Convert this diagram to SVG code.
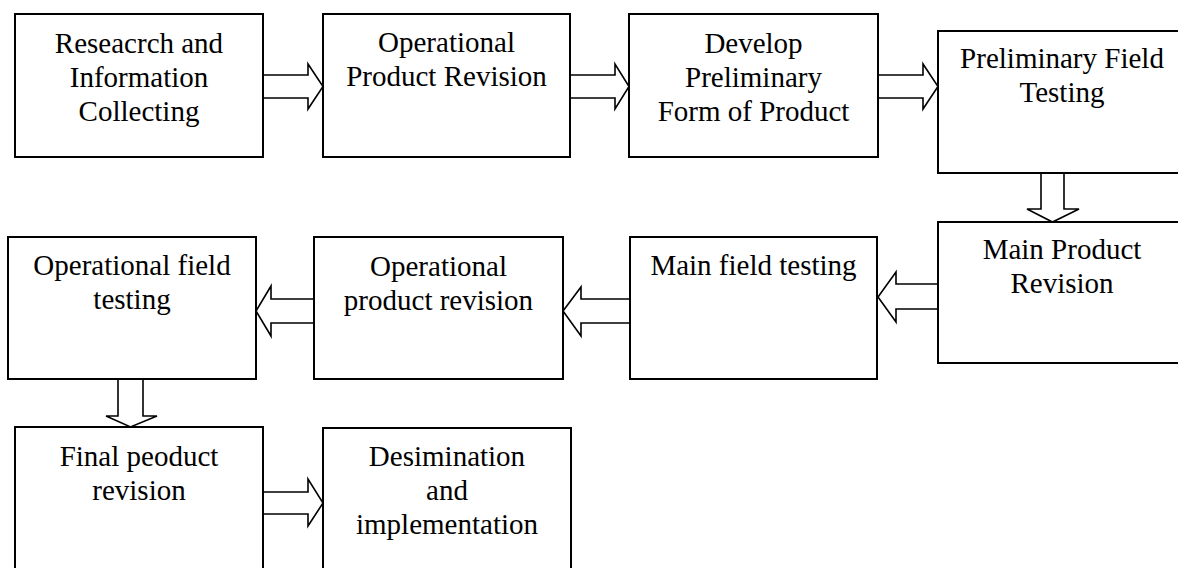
<svg xmlns="http://www.w3.org/2000/svg" width="1178" height="568" viewBox="0 0 1178 568">
<style>
.box{fill:#fff;stroke:#000;stroke-width:2}
.arr{fill:#fff;stroke:#000;stroke-width:1.6;stroke-linejoin:miter}
text{font-family:'Liberation Serif',Tinos,'Times New Roman',Times,'DejaVu Serif',serif;font-size:29px;fill:#000;text-anchor:middle}
</style>
<rect width="1178" height="568" fill="#fff"/>
<g id="connectors">
<polygon class="arr" points="263,75 308,75 308,64 323,86.5 308,109 308,98 263,98"/>
<polygon class="arr" points="570,75 615,75 615,64 629,86.5 615,109 615,98 570,98"/>
<polygon class="arr" points="878,75 923,75 923,64 938,86.5 923,109 923,98 878,98"/>
<polygon class="arr" points="1041,173 1041,209 1027,209 1052.5,222 1079,209 1064,209 1064,173"/>
<polygon class="arr" points="938,284 896,284 896,272 878,297 896,322 896,309 938,309"/>
<polygon class="arr" points="630,299 581,299 581,287 563,311 581,336 581,323 630,323"/>
<polygon class="arr" points="314,299 271,299 271,286 256,311 271,336 271,323 314,323"/>
<polygon class="arr" points="118,379 118,416 106,416 130.5,427 157,416 143,416 143,379"/>
<polygon class="arr" points="263,492 308,492 308,479 323,503 308,526 308,514 263,514"/>
</g>
<g id="n1"><rect class="box" x="15" y="14" width="248" height="143"/>
<text x="139" y="53">Reseacrch and</text><text x="139" y="87">Information</text><text x="139" y="121">Collecting</text></g>
<g id="n2"><rect class="box" x="323" y="14" width="247" height="143"/>
<text x="446.5" y="52">Operational</text><text x="446.5" y="86">Product Revision</text></g>
<g id="n3"><rect class="box" x="629" y="14" width="249" height="143"/>
<text x="753.5" y="53">Develop</text><text x="753.5" y="87">Preliminary</text><text x="753.5" y="121">Form of Product</text></g>
<g id="n4"><rect class="box" x="938" y="31" width="248" height="142"/>
<text x="1062" y="68">Preliminary Field</text><text x="1062" y="102">Testing</text></g>
<g id="n5"><rect class="box" x="938" y="222" width="248" height="141"/>
<text x="1062" y="259">Main Product</text><text x="1062" y="293">Revision</text></g>
<g id="n6"><rect class="box" x="630" y="237" width="247" height="142"/>
<text x="753.5" y="275">Main field testing</text></g>
<g id="n7"><rect class="box" x="314" y="237" width="249" height="142"/>
<text x="438.5" y="276">Operational</text><text x="438.5" y="310">product revision</text></g>
<g id="n8"><rect class="box" x="8" y="237" width="248" height="142"/>
<text x="132" y="275">Operational field</text><text x="132" y="309">testing</text></g>
<g id="n9"><rect class="box" x="15" y="427" width="248" height="160"/>
<text x="139" y="466">Final peoduct</text><text x="139" y="500">revision</text></g>
<g id="n10"><rect class="box" x="323" y="428" width="248" height="160"/>
<text x="447" y="466">Desimination</text><text x="447" y="500">and</text><text x="447" y="534">implementation</text></g>
</svg>
